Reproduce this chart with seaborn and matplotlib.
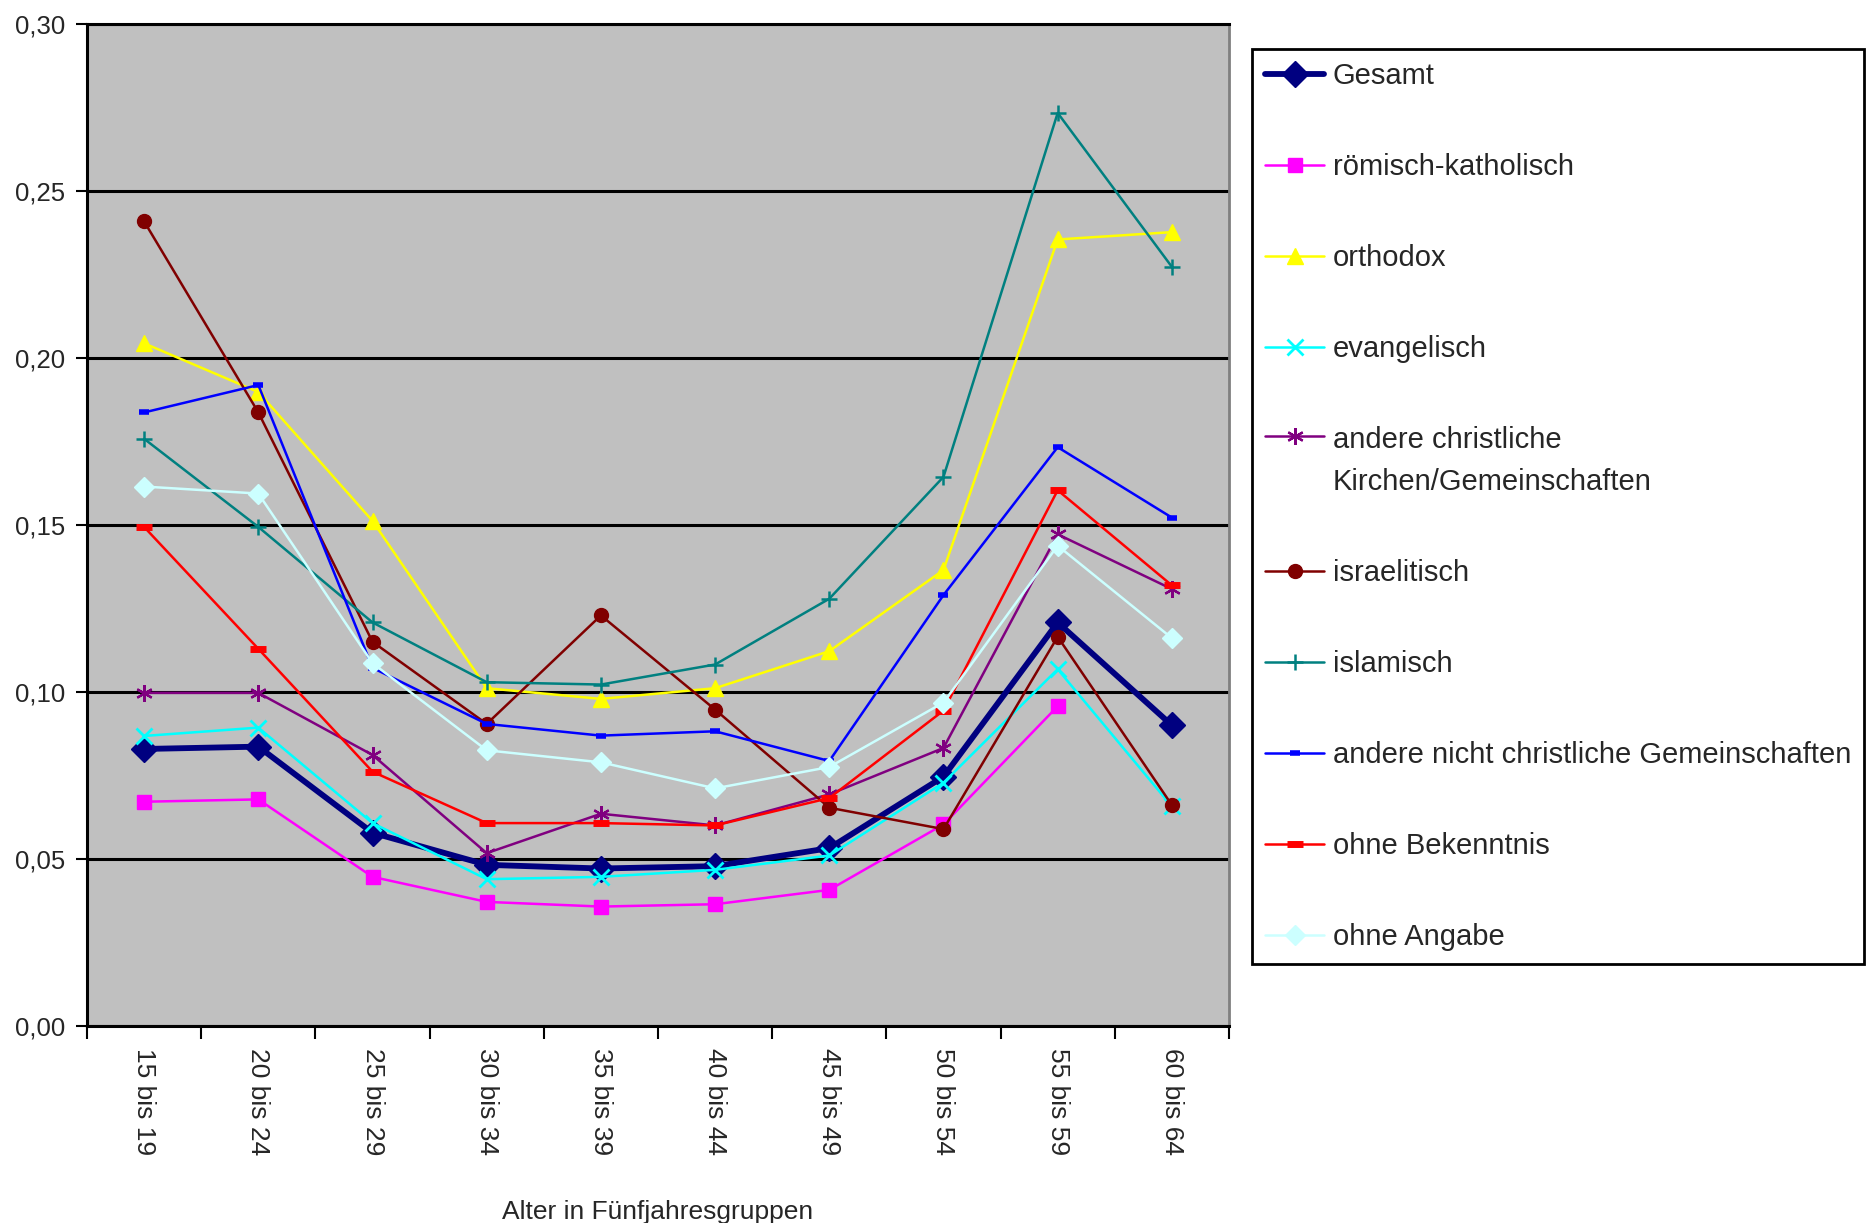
import numpy as np
import pandas as pd
import matplotlib
matplotlib.use("Agg")
import matplotlib.pyplot as plt
import seaborn as sns

# Values
age_groups = ["15 bis 19", "20 bis 24", "25 bis 29", "30 bis 34", "35 bis 39",
              "40 bis 44", "45 bis 49", "50 bis 54", "55 bis 59", "60 bis 64"]

gesamt = [0.0830, 0.0837, 0.0579, 0.0483, 0.0472, 0.0479, 0.0533, 0.0747, 0.1209, 0.0901]
roemisch_katholisch = [0.0672, 0.0679, 0.0447, 0.0372, 0.0358, 0.0365, 0.0408, 0.0604, 0.0958, np.nan]
orthodox = [0.2045, 0.1899, 0.1513, 0.1012, 0.0980, 0.1012, 0.1123, 0.1366, 0.2356, 0.2378]
evangelisch = [0.0869, 0.0894, 0.0608, 0.0440, 0.0447, 0.0468, 0.0511, 0.0729, 0.1069, 0.0658]
andere_christliche = [0.0998, 0.0998, 0.0812, 0.0518, 0.0636, 0.0601, 0.0694, 0.0833, 0.1473, 0.1309]
israelitisch = [0.2410, 0.1838, 0.1151, 0.0905, 0.1230, 0.0948, 0.0654, 0.0590, 0.1166, 0.0662]
islamisch = [0.1759, 0.1495, 0.1209, 0.1030, 0.1023, 0.1083, 0.1280, 0.1645, 0.2735, 0.2274]
andere_nicht_christliche = [0.1838, 0.1920, 0.1073, 0.0905, 0.0870, 0.0883, 0.0794, 0.1291, 0.1734, 0.1523]
ohne_bekenntnis = [0.1495, 0.1130, 0.0762, 0.0608, 0.0608, 0.0601, 0.0683, 0.0945, 0.1605, 0.1320]
ohne_angabe = [0.1616, 0.1595, 0.1087, 0.0826, 0.0790, 0.0712, 0.0776, 0.0969, 0.1439, 0.1162]

y_ticks = [0.0, 0.05, 0.10, 0.15, 0.20, 0.25, 0.30]
y_tick_labels = ["0,00", "0,05", "0,10", "0,15", "0,20", "0,25", "0,30"]
x_label = "Alter in Fünfjahresgruppen"

# label, values, color, marker, markersize, linewidth, markeredgewidth
series = [
    ("Gesamt", gesamt, "#000080", "D", 13, 4.2, 1),
    ("römisch-katholisch", roemisch_katholisch, "#FF00FF", "s", 10, 1.8, 1),
    ("orthodox", orthodox, "#FFFF00", "^", 11, 1.8, 1),
    ("evangelisch", evangelisch, "#00FFFF", "x", 11, 1.8, 2),
    ("andere christliche\nKirchen/Gemeinschaften", andere_christliche, "#800080", (6, 2, 0), 12, 1.8, 1.6),
    ("israelitisch", israelitisch, "#800000", "o", 10, 1.8, 1),
    ("islamisch", islamisch, "#008080", "+", 12, 1.8, 1.8),
    ("andere nicht christliche Gemeinschaften", andere_nicht_christliche, "#0000FF", "_", 7, 1.8, 4),
    ("ohne Bekenntnis", ohne_bekenntnis, "#FF0000", "_", 11, 1.8, 5),
    ("ohne Angabe", ohne_angabe, "#CCFFFF", "D", 10, 1.8, 1),
]

sns.set_style("white")
plt.rcParams["font.family"] = ["Liberation Sans", "DejaVu Sans"]

fig = plt.figure(figsize=(18.72, 12.23), dpi=100)
ax = fig.add_axes([0.0465, 0.161, 0.61, 0.819])
ax.set_facecolor("#C0C0C0")

for label, values, color, marker, ms, lw, mew in series:
    df = pd.DataFrame({"Alter": age_groups, "Wert": values}).dropna()
    sns.lineplot(data=df, x="Alter", y="Wert", ax=ax, color=color, marker=marker,
                 markersize=ms, linewidth=lw, markeredgewidth=mew,
                 markeredgecolor=color, label=label, sort=False, estimator=None)

ax.set_xlim(-0.5, len(age_groups) - 0.5)
ax.set_ylim(0, 0.30)

# category labels between the boundary ticks
ax.set_xticks(np.arange(len(age_groups) + 1) - 0.5)
ax.set_xticklabels([])
ax.set_xticks(np.arange(len(age_groups)), minor=True)
ax.set_xticklabels(age_groups, minor=True, rotation=270, fontsize=19,
                   ha="center", va="top")
ax.tick_params(axis="x", which="major", direction="out", length=9, width=1.5,
               color="black", bottom=True)
ax.tick_params(axis="x", which="minor", length=0, pad=16, bottom=True)

ax.set_yticks(y_ticks)
ax.set_yticklabels(y_tick_labels, fontsize=18.5)
ax.tick_params(axis="y", direction="out", length=8, width=1.5, color="black",
               pad=8, left=True)

ax.yaxis.grid(True, color="black", linewidth=2.2)
ax.xaxis.grid(False)
ax.set_axisbelow(True)

for side in ["left", "bottom", "top"]:
    ax.spines[side].set_color("black")
    ax.spines[side].set_linewidth(2.2)
ax.spines["right"].set_color("#808080")
ax.spines["right"].set_linewidth(2)

ax.set_xlabel(x_label, fontsize=19, labelpad=32)
ax.set_ylabel("")

handles, labels = ax.get_legend_handles_labels()
leg = ax.legend(handles, labels, loc="upper left", bbox_to_anchor=(0.669, 0.960),
                bbox_transform=fig.transFigure, fontsize=21, frameon=True,
                fancybox=False, framealpha=1, edgecolor="black",
                handlelength=2.0, handletextpad=0.3, labelspacing=2.16,
                borderpad=0.45, borderaxespad=0, numpoints=1)
leg.get_frame().set_linewidth(2)

# two-line entry: wider line gap, marker on the first line
for col in leg._legend_handle_box.get_children():
    for row in col.get_children():
        handle_area, text_area = row.get_children()
        if "\n" in text_area.get_text():
            text_area._text.set_linespacing(1.65)
            row.align = "top"

fig.savefig("out.png", dpi=100, facecolor="white")
